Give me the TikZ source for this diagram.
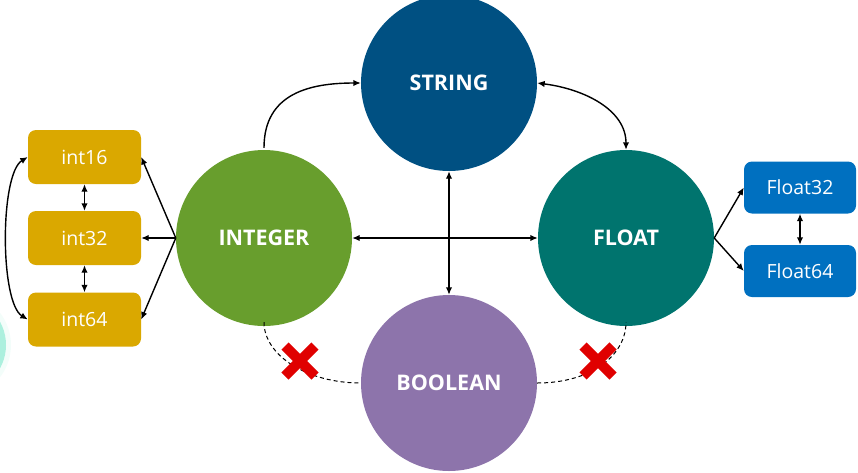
\documentclass[tikz,border=0pt]{standalone}
\usepackage{fontspec}
\setmainfont{Open Sans}
\usetikzlibrary{arrows.meta,calc}
\definecolor{cgold}{RGB}{218,168,0}
\definecolor{cblue}{RGB}{0,112,192}
\definecolor{cstring}{RGB}{0,80,130}
\definecolor{cint}{RGB}{104,158,45}
\definecolor{cfloat}{RGB}{0,116,110}
\definecolor{cbool}{RGB}{141,116,171}
\definecolor{cred}{RGB}{224,0,0}
\definecolor{ccyan}{RGB}{172,240,222}
\tikzset{
  bigcirc/.style={circle,minimum size=176pt,inner sep=0pt,text=white,
    font=\fontsize{21.5}{25}\selectfont\bfseries},
  typebox/.style={rectangle,rounded corners=8pt,minimum width=113pt,minimum height=54pt,
    inner sep=0pt,text=white,font=\fontsize{19.5}{23}\selectfont},
  conn/.style={line width=1.4pt,-{Latex[length=7.5pt,width=6.5pt]}},
  dconn/.style={line width=1.4pt,{Latex[length=7.5pt,width=6.5pt]}-{Latex[length=7.5pt,width=6.5pt]}},
  dashconn/.style={line width=1pt,dashed,dash pattern=on 4pt off 3pt},
  redx/.style={line width=10pt,cred,line cap=butt}
}
\begin{document}
\begin{tikzpicture}[x=1pt,y=-1pt]
\useasboundingbox (0,0) rectangle (858,472);
\begin{scope}
\clip (0,0) rectangle (858,472);
\fill[ccyan!15] (-42,345) circle (53);
\fill[ccyan] (-42,345) circle (48);
% circles
\node[bigcirc,fill=cstring] (string) at (449,83) {STRING};
\node[bigcirc,fill=cint] (integer) at (264,238) {INTEGER};
\node[bigcirc,fill=cfloat] (float) at (626,238) {FLOAT};
\node[bigcirc,fill=cbool] (boolean) at (449,383) {BOOLEAN};
% boxes
\node[typebox,fill=cgold] (i16) at (84.5,157) {int16};
\node[typebox,fill=cgold] (i32) at (84.5,238) {int32};
\node[typebox,fill=cgold] (i64) at (84.5,319.5) {int64};
\node[typebox,fill=cblue,minimum width=112pt,minimum height=52pt] (f32) at (800,187.5) {Float32};
\node[typebox,fill=cblue,minimum width=112pt,minimum height=52pt] (f64) at (800,271) {Float64};
% connectors
\draw[conn] ($(integer.north)+(0,-2)$) .. controls +(0,-55) and +(-50,0) .. (string.west);
\draw[dconn] (string.east) .. controls +(47,6) and +(0,-40) .. (float.north);
\draw[dconn] (integer.east) -- (float.west);
\draw[dconn] (string.south) -- (boolean.north);
\draw[conn] (integer.west) -- (i16.east);
\draw[conn] (integer.west) -- (i32.east);
\draw[conn] (integer.west) -- (i64.east);
\draw[dconn] (i16.south) -- (i32.north);
\draw[dconn] (i32.south) -- (i64.north);
\draw[dconn] (i16.west) .. controls +(-28,17) and +(-28,-17) .. (i64.west);
\draw[conn] (float.east) -- (f32.west);
\draw[conn] (float.east) -- (f64.west);
\draw[dconn] (f32.south) -- (f64.north);
\draw[dashconn] ($(integer.south)+(0,-4)$) .. controls +(0,33) and +(-54,0) .. (boolean.west);
\draw[dashconn] (boolean.east) .. controls +(54,0) and +(0,33) .. ($(float.south)+(0,-4)$);
% red crosses
\coordinate (x1) at (300,361);
\coordinate (x2) at (598,361);
\foreach \c in {x1,x2}{
  \draw[redx] ($(\c)+(-15,-15)$) -- ($(\c)+(15,15)$);
  \draw[redx] ($(\c)+(15,-15)$) -- ($(\c)+(-15,15)$);
}
\end{scope}
\end{tikzpicture}
\end{document}
